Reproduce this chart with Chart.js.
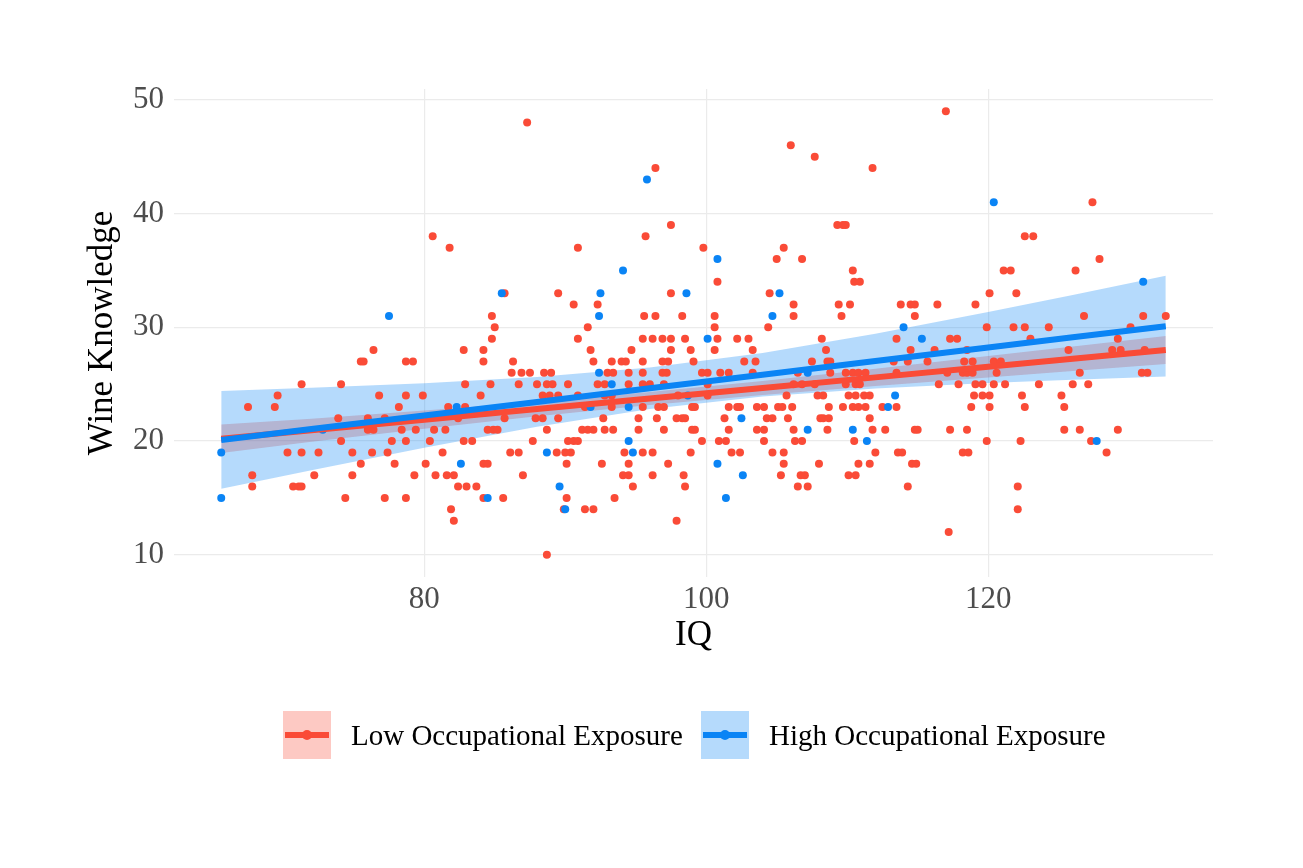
<!DOCTYPE html>
<html>
<head>
<meta charset="utf-8">
<title>Wine Knowledge by IQ</title>
<script src="https://cdn.jsdelivr.net/npm/chart.js@4.4.1/dist/chart.umd.min.js"></script>
<style>
  body { margin:0; background:#fff; }
  #wrap { position:relative; width:1303px; height:868px; }
  #legend { position:absolute; left:0; top:0; width:1303px; height:868px; pointer-events:none;
            font-family:"Liberation Serif", "Times New Roman", serif; font-size:29px; color:#000; }
  .key { position:absolute; top:711px; width:48px; height:48px; }
  .key .ln { position:absolute; left:2px; right:2px; top:21px; height:6px; }
  .key .dt { position:absolute; left:19px; top:19px; width:10px; height:10px; border-radius:50%; }
  .lbl { position:absolute; top:716px; line-height:38px; white-space:nowrap; }
</style>
</head>
<body>
<div id="wrap">
  <canvas id="chart" width="1303" height="868"></canvas>
  <div id="legend">
    <div class="key" style="left:283px;background:rgba(250,75,55,0.3)"><div class="ln" style="background:#FA4B37"></div><div class="dt" style="background:#FA4B37"></div></div>
    <div class="lbl" style="left:351px">Low Occupational Exposure</div>
    <div class="key" style="left:701px;background:rgba(10,132,245,0.3)"><div class="ln" style="background:#0A84F5"></div><div class="dt" style="background:#0A84F5"></div></div>
    <div class="lbl" style="left:769px">High Occupational Exposure</div>
  </div>
</div>
<script>
// ticks
const xTicks = [80, 100, 120];
const yTicks = [10, 20, 30, 40, 50];

// low exposure points, grouped by wine knowledge score: [score, [IQ values]]
const lowRows = [
  [49, [117.0]],
  [48, [87.3]],
  [46, [106.0]],
  [45, [107.7]],
  [44, [96.4, 111.8]],
  [41, [127.4]],
  [39, [97.5, 109.3, 109.7, 109.9]],
  [38, [80.6, 95.7, 122.6, 123.2]],
  [37, [81.8, 90.9, 99.8, 105.5]],
  [36, [105.0, 106.8, 127.9]],
  [35, [110.4, 121.1, 121.6, 126.2]],
  [34, [100.8, 110.5, 110.9]],
  [33, [85.7, 89.5, 97.5, 104.5, 120.1, 122.0]],
  [32, [90.6, 92.3, 106.2, 109.4, 110.2, 113.8, 114.5, 114.8, 116.4, 119.1]],
  [31, [84.8, 95.6, 96.4, 98.3, 100.6, 106.2, 109.6, 114.8, 126.8, 131.0, 132.6]],
  [30, [85.0, 91.6, 100.6, 104.4, 119.9, 121.8, 122.6, 124.3, 130.1]],
  [29, [84.8, 90.9, 95.5, 96.2, 96.9, 97.5, 98.5, 100.8, 102.2, 103.0, 108.2, 113.5, 117.3, 117.8, 123.0, 129.2]],
  [28, [76.4, 82.8, 84.2, 91.8, 94.7, 97.5, 98.9, 100.6, 103.3, 108.5, 114.5, 116.2, 118.5, 125.7, 128.8, 129.4, 131.1]],
  [27, [75.5, 75.7, 78.7, 79.2, 84.2, 86.3, 92.0, 93.3, 94.0, 94.3, 95.5, 96.9, 97.3, 99.1, 102.7, 103.5, 107.5, 108.6, 108.8, 113.3, 114.3, 115.7, 118.3, 118.9, 120.4, 120.9]],
  [26, [86.2, 86.9, 87.5, 88.5, 89.0, 93.0, 93.4, 94.5, 95.5, 96.9, 97.2, 99.7, 100.1, 101.0, 101.6, 103.3, 106.5, 108.8, 109.9, 110.4, 110.8, 111.3, 113.5, 117.1, 118.2, 118.5, 118.9, 120.6, 126.5, 130.9, 131.3]],
  [25, [71.3, 74.1, 82.9, 84.7, 86.7, 88.0, 88.7, 89.1, 90.2, 92.3, 92.8, 94.5, 95.5, 96.0, 97.0, 100.1, 106.2, 106.8, 107.7, 109.9, 110.6, 110.9, 116.5, 117.9, 119.1, 119.6, 120.4, 121.2, 123.6, 126.0, 127.1]],
  [24, [69.6, 76.8, 78.7, 79.9, 84.0, 88.4, 88.9, 89.5, 90.9, 92.8, 93.3, 98.0, 100.1, 105.7, 107.9, 108.3, 110.1, 110.6, 111.2, 111.6, 119.0, 119.6, 120.1, 122.4, 125.2]],
  [23, [67.5, 69.4, 78.2, 81.7, 82.9, 91.4, 93.3, 95.5, 96.6, 97.0, 99.0, 99.2, 101.6, 102.2, 102.4, 103.6, 104.1, 105.1, 105.4, 106.1, 108.7, 109.7, 110.4, 110.8, 111.3, 112.5, 113.5, 118.8, 120.1, 122.6, 125.4]],
  [22, [73.9, 76.0, 77.2, 82.4, 85.7, 87.9, 88.4, 89.5, 92.7, 95.2, 96.5, 97.9, 98.3, 98.5, 101.3, 104.3, 104.7, 105.8, 108.1, 108.3, 108.7, 111.6]],
  [21, [76.0, 76.4, 78.4, 79.4, 80.7, 81.5, 84.5, 84.9, 85.2, 88.7, 91.2, 91.6, 92.0, 92.8, 93.4, 95.2, 97.0, 99.0, 99.2, 101.6, 103.6, 104.1, 106.2, 108.6, 111.8, 112.7, 114.8, 115.0, 117.3, 118.5, 125.4, 126.5, 129.2]],
  [20, [74.1, 77.7, 78.7, 80.4, 82.8, 83.4, 87.7, 90.2, 90.6, 90.9, 99.7, 100.9, 101.4, 104.1, 106.3, 106.8, 110.5, 119.9, 122.3, 127.3]],
  [19, [70.3, 71.3, 72.5, 74.9, 76.3, 77.4, 81.3, 86.1, 86.7, 89.4, 90.0, 90.4, 94.2, 95.5, 96.2, 98.9, 101.8, 102.4, 104.7, 105.5, 112.0, 113.6, 113.9, 118.2, 118.6, 128.4]],
  [18, [75.5, 77.9, 80.1, 84.2, 84.5, 90.1, 92.6, 94.5, 97.3, 105.5, 108.0, 110.8, 111.6, 114.6, 114.9]],
  [17, [67.8, 72.2, 74.9, 79.3, 80.8, 81.6, 82.1, 87.0, 94.1, 94.5, 96.2, 98.4, 105.3, 106.7, 107.0, 110.1, 110.6]],
  [16, [67.8, 70.7, 71.1, 71.3, 82.4, 83.0, 83.7, 94.8, 98.5, 106.5, 107.2, 114.3, 122.1]],
  [15, [74.4, 77.2, 78.7, 84.2, 85.6, 90.1, 93.5]],
  [14, [81.9, 89.9, 91.4, 92.0, 122.1]],
  [13, [82.1, 97.9]],
  [12, [117.2]],
  [10, [88.7]]
];

// high exposure points: [IQ, score]
const highPoints = [
  [65.6, 19], [65.6, 15], [72.8, 21], [77.5, 31], [82.3, 23], [82.6, 18], [84.5, 15],
  [85.5, 33], [88.7, 19], [89.6, 16], [90.0, 14], [91.8, 23], [92.4, 31], [92.5, 33],
  [92.4, 26], [93.3, 25], [94.1, 35], [94.5, 23], [94.5, 20], [94.8, 19], [95.8, 43],
  [98.6, 33], [98.7, 24], [100.1, 29], [100.8, 36], [100.8, 18], [101.4, 15], [102.5, 22],
  [102.6, 17], [104.7, 31], [105.2, 33], [107.2, 26], [107.2, 21], [110.4, 21], [111.4, 20],
  [112.9, 23], [113.4, 24], [114.0, 30], [115.3, 29], [120.4, 41], [127.7, 20], [131.0, 34]
];

// fitted lines and confidence bands
const fitX      = [65.6, 72, 80, 88, 96, 104, 112, 120, 126, 132.6];
const lowFit    = [20.2, 20.95, 21.88, 22.81, 23.74, 24.67, 25.60, 26.53, 27.23, 28.0];
const lowUpper  = [21.45, 21.97, 22.68, 23.44, 24.32, 25.29, 26.36, 27.48, 28.31, 29.23];
const lowLower  = [18.95, 19.93, 21.08, 22.18, 23.16, 24.05, 24.84, 25.58, 26.15, 26.77];
const highFit   = [20.1, 21.06, 22.25, 23.44, 24.64, 25.83, 27.03, 28.22, 29.12, 30.1];
const highUpper = [24.4, 24.68, 25.09, 25.63, 26.46, 27.74, 29.44, 31.34, 32.85, 34.53];
const highLower = [15.8, 17.44, 19.41, 21.25, 22.82, 23.92, 24.62, 25.10, 25.39, 25.67];

const RED = '#FA4B37', BLUE = '#0A84F5';
const FONT = '"Liberation Serif", "Times New Roman", serif';

const lowPts = [];
lowRows.forEach(([score, iqs]) => iqs.forEach(iq => lowPts.push({x: iq, y: score})));
const highPts = highPoints.map(([iq, score]) => ({x: iq, y: score}));
const curve = ys => fitX.map((x, i) => ({x, y: ys[i]}));

function lineSet(data, color, order){
  return { data, showLine:true, borderColor:color, borderWidth:6, pointRadius:0, tension:0, fill:false, order };
}
function bandSet(data, fillColor, fill, order){
  return { data, showLine:true, borderWidth:0, borderColor:'rgba(0,0,0,0)', pointRadius:0, tension:0,
           fill, backgroundColor:fillColor, order };
}

new Chart(document.getElementById('chart').getContext('2d'), {
  type: 'scatter',
  data: {
    datasets: [
      lineSet(curve(highFit), BLUE, 0),
      lineSet(curve(lowFit), RED, 1),
      { data: highPts, pointRadius:4, pointBackgroundColor:BLUE, pointBorderWidth:0, order:2 },
      { data: lowPts, pointRadius:4, pointBackgroundColor:RED, pointBorderWidth:0, order:3 },
      bandSet(curve(highUpper), 'rgba(10,132,245,0.3)', '+1', 4),
      bandSet(curve(highLower), 'rgba(0,0,0,0)', false, 4),
      bandSet(curve(lowUpper), 'rgba(250,75,55,0.3)', '+1', 6),
      bandSet(curve(lowLower), 'rgba(0,0,0,0)', false, 6)
    ]
  },
  options: {
    responsive:false,
    animation:false,
    layout:{ padding:{ left:0, top:89, right:90, bottom:191 } },
    plugins:{ legend:{display:false}, tooltip:{enabled:false} },
    scales:{
      x:{
        type:'linear', min:62.25, max:135.95,
        afterBuildTicks: s => { s.ticks = xTicks.map(v => ({value:v})); },
        afterFit: s => { s.height = 100; },
        grid:{ color:'#EBEBEB', lineWidth:1.2, drawTicks:false },
        border:{ display:false },
        ticks:{ padding:4, color:'#4D4D4D', font:{ family:FONT, size:31 }, callback: v => String(v) },
        title:{ display:true, text:'IQ', color:'#000', font:{ family:FONT, size:35 }, padding:{ top:0, bottom:20 } }
      },
      y:{
        type:'linear', min:8.05, max:50.95,
        afterBuildTicks: s => { s.ticks = yTicks.map(v => ({value:v})); },
        afterFit: s => { s.width = 174; },
        grid:{ color:'#EBEBEB', lineWidth:1.2, drawTicks:false },
        border:{ display:false },
        ticks:{ padding:10, color:'#4D4D4D', font:{ family:FONT, size:31 }, callback: v => String(v) },
        title:{ display:true, text:'Wine Knowledge', color:'#000', font:{ family:FONT, size:35 }, padding:{ top:82, bottom:0 } }
      }
    }
  }
});
</script>
</body>
</html>
